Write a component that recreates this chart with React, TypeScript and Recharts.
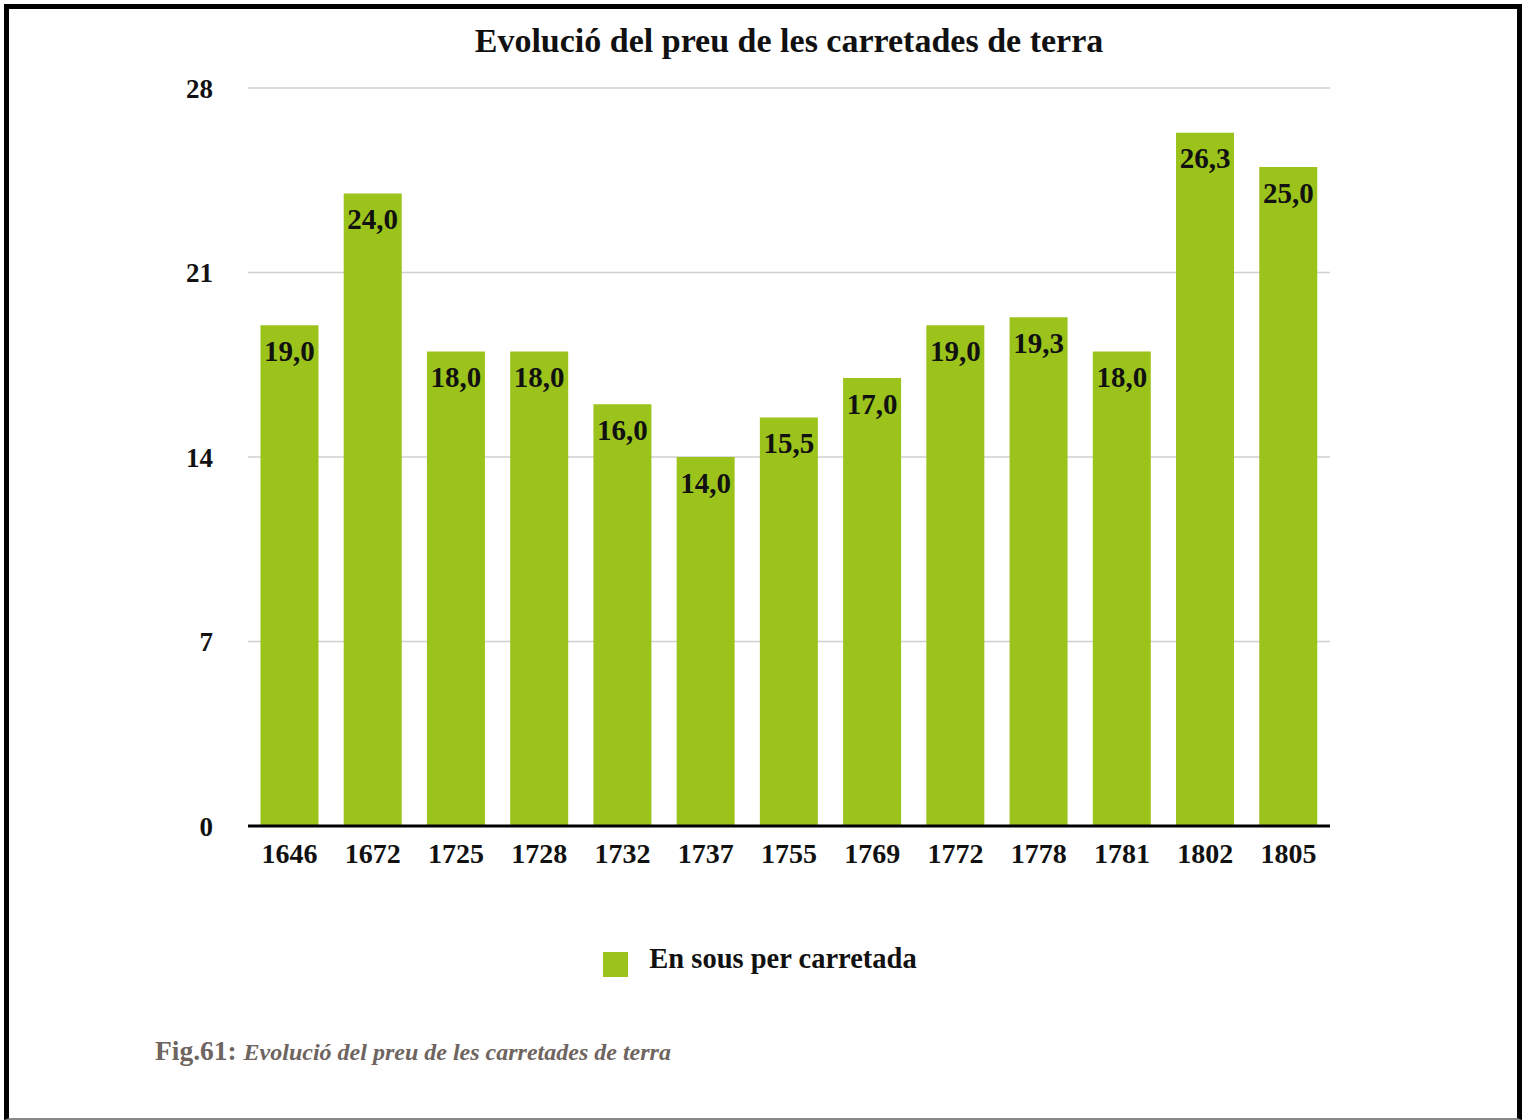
import { BarChart, Bar, XAxis, YAxis, CartesianGrid, Legend, LabelList } from 'recharts'

const YEARS = ['1646', '1672', '1725', '1728', '1732', '1737', '1755', '1769', '1772', '1778', '1781', '1802', '1805']
const PRICES = [19, 24, 18, 18, 16, 14, 15.5, 17, 19, 19.3, 18, 26.3, 25]
const Y_TICKS = [0, 7, 14, 21, 28]

const SERIES_NAME = 'En sous per carretada'
const GREEN = '#9bc31b'
const FONT = '"Liberation Serif", "Times New Roman", serif'

const data = YEARS.map((year, i) => ({ year, value: PRICES[i] }))

const fmt = (v: number) => v.toFixed(1).replace('.', ',')

export default function App() {
  return (
    <div
      style={{
        position: 'absolute', top: 0, left: 0, width: 1526, height: 1120,
        background: '#fff', fontFamily: FONT, overflow: 'hidden',
      }}
    >
      {/* outer frame */}
      <div
        style={{
          position: 'absolute', left: 4, top: 4, width: 1518, height: 1116,
          boxSizing: 'border-box', borderTop: '5px solid #000', borderLeft: '5px solid #000',
          borderRight: '5px solid #000', borderBottom: '2px solid #888',
        }}
      />

      <div
        style={{
          position: 'absolute', top: 22, left: 0, width: 1578, textAlign: 'center',
          fontSize: 34, fontWeight: 'bold', color: '#111',
        }}
      >
        Evolució del preu de les carretades de terra
      </div>

      <div style={{ position: 'absolute', top: 0, left: 0 }}>
        <BarChart
          width={1526}
          height={1000}
          data={data}
          margin={{ top: 88, right: 196, bottom: 114, left: 168 }}
          barCategoryGap="15%"
        >
          <CartesianGrid vertical={false} stroke="#cfcfcf" strokeWidth={1.5} />
          <YAxis
            width={80}
            domain={[0, 28]}
            ticks={Y_TICKS}
            axisLine={false}
            tickLine={false}
            tickSize={0}
            tickMargin={35}
            tick={{ fontSize: 27, fontWeight: 'bold', fill: '#111', fontFamily: FONT }}
          />
          <XAxis
            dataKey="year"
            height={60}
            axisLine={{ stroke: '#000', strokeWidth: 3 }}
            tickLine={false}
            tickSize={0}
            tickMargin={17}
            interval={0}
            tick={{ fontSize: 28, fontWeight: 'bold', fill: '#111', fontFamily: FONT }}
          />
          <Legend
            verticalAlign="middle"
            align="center"
            iconType="square"
            iconSize={25}
            wrapperStyle={{ top: 943, left: 2, width: 1526, fontFamily: FONT }}
            formatter={(v) => (
              <span style={{ color: '#111', fontSize: 28.5, fontWeight: 'bold', marginLeft: 17 }}>{v}</span>
            )}
          />
          <Bar dataKey="value" name={SERIES_NAME} fill={GREEN} isAnimationActive={false}>
            <LabelList
              dataKey="value"
              position="insideTop"
              offset={15}
              formatter={(v: any) => fmt(Number(v))}
              style={{ fontSize: 29, fontWeight: 'bold', fill: '#111', fontFamily: FONT }}
            />
          </Bar>
        </BarChart>
      </div>

      <div
        style={{
          position: 'absolute', left: 155, top: 1035, fontSize: 27.5, color: '#6e6460',
          fontWeight: 'bold', whiteSpace: 'nowrap',
        }}
      >
        Fig.61: <span style={{ fontStyle: 'italic', fontSize: 24 }}>Evolució del preu de les carretades de terra</span>
      </div>
    </div>
  )
}
